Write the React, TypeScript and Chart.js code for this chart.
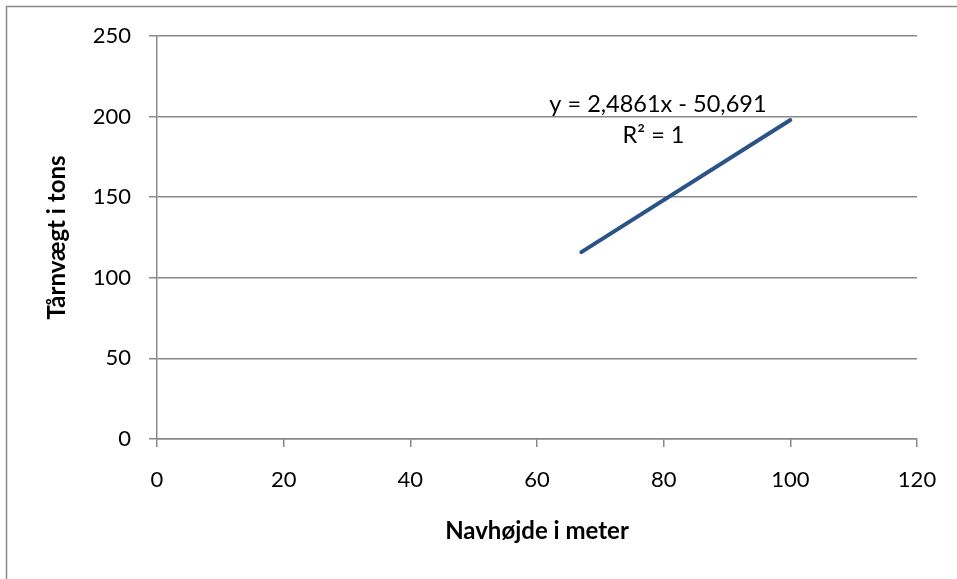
import React, { useEffect, useRef } from "react";
import { Chart, registerables } from "chart.js";

Chart.register(...registerables);

// Data
const hubHeights = [67, 100]; // Navhøjde i meter
const towerWeights = [115.9, 197.9]; // Tårnvægt i tons
const trendLines = ["y = 2,4861x - 50,691", "R² = 1"];
const xTitle = "Navhøjde i meter";
const yTitle = "Tårnvægt i tons";

const FONT = "Lato, 'Open Sans', sans-serif";
const GRAY = "#888888";

const frameAndLabel = {
  id: "frameAndLabel",
  beforeDraw(chart: any) {
    const ctx = chart.ctx;
    ctx.save();
    ctx.fillStyle = "#ffffff";
    ctx.fillRect(0, 0, chart.width, chart.height);
    ctx.strokeStyle = GRAY;
    ctx.lineWidth = 1.5;
    ctx.beginPath();
    ctx.moveTo(6.5, chart.height);
    ctx.lineTo(6.5, 6.5);
    ctx.lineTo(chart.width, 6.5);
    ctx.stroke();
    ctx.restore();
  },
  afterDatasetsDraw(chart: any) {
    const ctx = chart.ctx;
    const xs = chart.scales.x;
    const ys = chart.scales.y;
    ctx.save();
    ctx.fillStyle = "#000";
    ctx.font = `23.5px ${FONT}`;
    ctx.textAlign = "center";
    ctx.textBaseline = "middle";
    ctx.fillText(trendLines[0], xs.getPixelForValue(79.1), ys.getPixelForValue(207.5));
    ctx.fillText(trendLines[1], xs.getPixelForValue(78.4), ys.getPixelForValue(188.5));
    ctx.restore();
  },
};

export default function App() {
  const ref = useRef<HTMLCanvasElement | null>(null);
  useEffect(() => {
    if (!ref.current) return;
    const chart = new Chart(ref.current, {
      type: "scatter",
      data: {
        datasets: [
          {
            data: hubHeights.map((x, i) => ({ x, y: towerWeights[i] })),
            showLine: true,
            borderColor: "#2A5388",
            borderWidth: 4,
            borderCapStyle: "round",
            pointRadius: 0,
            pointHoverRadius: 0,
          },
        ],
      },
      plugins: [frameAndLabel],
      options: {
        responsive: false,
        animation: false,
        layout: { padding: { left: 0, top: 36, right: 40, bottom: 0 } },
        plugins: {
          legend: { display: false },
          tooltip: { enabled: false },
        },
        scales: {
          x: {
            type: "linear",
            min: 0,
            max: 120,
            ticks: { stepSize: 20, color: "#000", font: { family: FONT, size: 22 }, padding: 20, maxRotation: 0 },
            grid: { display: true, drawOnChartArea: false, drawTicks: true, tickLength: 8, color: GRAY, lineWidth: 1.5 },
            border: { display: true, color: GRAY, width: 1.5 },
            title: { display: true, text: xTitle, color: "#000", font: { family: FONT, size: 24, weight: "bold" }, padding: 33 },
            afterFit(scale: any) {
              scale.height = 140;
            },
          },
          y: {
            type: "linear",
            min: 0,
            max: 250,
            ticks: { stepSize: 50, color: "#000", font: { family: FONT, size: 22 }, padding: 18 },
            grid: { display: true, drawTicks: true, tickLength: 8, color: GRAY, lineWidth: 1.5 },
            border: { display: true, color: GRAY, width: 1.5 },
            title: { display: true, text: yTitle, color: "#000", font: { family: FONT, size: 24, weight: "bold" }, padding: 43 },
            afterFit(scale: any) {
              scale.width = 157;
            },
          },
        },
      },
    } as any);
    return () => chart.destroy();
  }, []);
  return (
    <div style={{ position: "fixed", left: 0, top: 0, width: 957, height: 579, background: "#fff" }}>
      <canvas ref={ref} width={957} height={579} style={{ display: "block", width: 957, height: 579 }} />
    </div>
  );
}
